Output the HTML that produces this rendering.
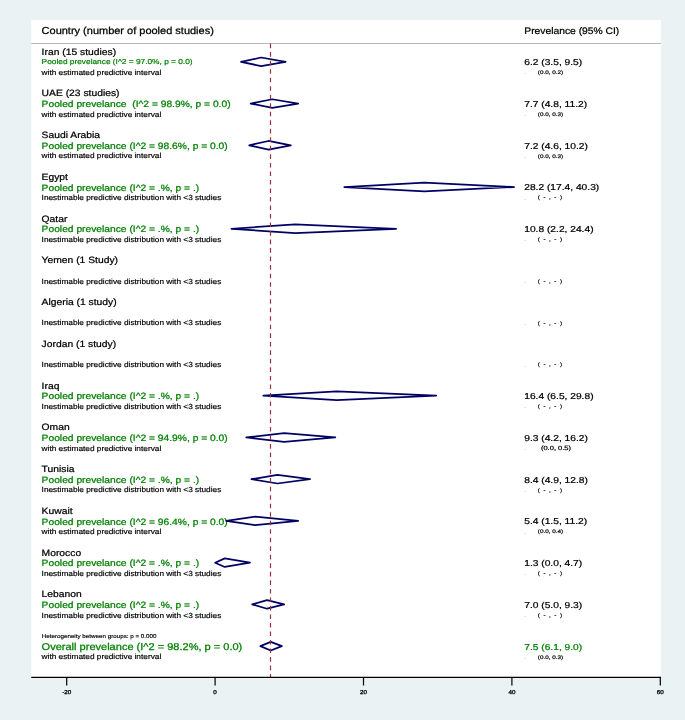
<!DOCTYPE html>
<html lang="en">
<head>
<meta charset="utf-8">
<title>Forest plot - Prevelance (95% CI) by country</title>
<style>
html,body{margin:0;padding:0;background:#eaf2f3;}
body{width:685px;height:720px;overflow:hidden;}
svg{display:block;will-change:transform;}
svg text{font-family:"Liberation Sans",Arial,Helvetica,sans-serif;text-rendering:geometricPrecision;}
</style>
</head>
<body>
<svg width="685" height="720" viewBox="0 0 685 720">
<rect x="0" y="0" width="685" height="720" fill="#eaf2f3"/>
<rect x="31.3" y="20" width="629.7" height="657.3" fill="#fff"/>
<line x1="31.3" y1="43.5" x2="661" y2="43.5" stroke="#b8b8b8" stroke-width="1"/>
<text xml:space="preserve" transform="translate(41.60,34.00) scale(1.08,1)" font-size="10.19" fill="#000" stroke="#000" stroke-width="0.255" text-anchor="start">Country (number of pooled studies)</text>
<text xml:space="preserve" transform="translate(524.30,34.00) scale(1.08,1)" font-size="9.54" fill="#000" stroke="#000" stroke-width="0.238" text-anchor="start">Prevelance (95% CI)</text>
<text xml:space="preserve" transform="translate(41.60,54.70) scale(1.12,1)" font-size="9.21" fill="#000" stroke="#000" stroke-width="0.230" text-anchor="start">Iran (15 studies)</text>
<text xml:space="preserve" transform="translate(41.60,64.40) scale(1.15,1)" font-size="7.24" fill="#008000" stroke="#008000" stroke-width="0.188" text-anchor="start">Pooled prevelance (I^2 = 97.0%, p = 0.0)</text>
<text xml:space="preserve" transform="translate(41.60,75.00) scale(1.12,1)" font-size="7.40" fill="#000" stroke="#000" stroke-width="0.185" text-anchor="start">with estimated predictive interval</text>
<path d="M241.07 61.80 L261.10 57.50 L285.59 61.80 L261.10 66.10 Z" fill="none" stroke="#000064" stroke-width="1.75" stroke-linejoin="round"/>
<text xml:space="preserve" transform="translate(524.20,65.20) scale(1.19,1)" font-size="8.61" fill="#000" stroke="#000" stroke-width="0.215" text-anchor="start">6.2 (3.5, 9.5)</text>
<text xml:space="preserve" transform="translate(524.20,74.40) scale(1.6,1)" font-size="3.98" fill="#707070" stroke="#707070" stroke-width="0.000" text-anchor="start">.</text>
<text xml:space="preserve" transform="translate(537.80,74.20) scale(1.24,1)" font-size="5.14" fill="#000" stroke="#000" stroke-width="0.180" text-anchor="start">(0.0, 0.2)</text>
<text xml:space="preserve" transform="translate(41.60,96.44) scale(1.12,1)" font-size="9.21" fill="#000" stroke="#000" stroke-width="0.230" text-anchor="start">UAE (23 studies)</text>
<text xml:space="preserve" transform="translate(41.60,107.14) scale(1.12,1)" font-size="9.17" fill="#008000" stroke="#008000" stroke-width="0.238" text-anchor="start">Pooled prevelance  (I^2 = 98.9%, p = 0.0)</text>
<text xml:space="preserve" transform="translate(41.60,116.74) scale(1.12,1)" font-size="7.40" fill="#000" stroke="#000" stroke-width="0.185" text-anchor="start">with estimated predictive interval</text>
<path d="M250.72 103.54 L272.23 99.24 L298.20 103.54 L272.23 107.84 Z" fill="none" stroke="#000064" stroke-width="1.75" stroke-linejoin="round"/>
<text xml:space="preserve" transform="translate(524.20,106.94) scale(1.19,1)" font-size="8.61" fill="#000" stroke="#000" stroke-width="0.215" text-anchor="start">7.7 (4.8, 11.2)</text>
<text xml:space="preserve" transform="translate(524.20,116.14) scale(1.6,1)" font-size="3.98" fill="#707070" stroke="#707070" stroke-width="0.000" text-anchor="start">.</text>
<text xml:space="preserve" transform="translate(537.80,115.94) scale(1.24,1)" font-size="5.14" fill="#000" stroke="#000" stroke-width="0.180" text-anchor="start">(0.0, 0.3)</text>
<text xml:space="preserve" transform="translate(41.60,138.18) scale(1.12,1)" font-size="9.21" fill="#000" stroke="#000" stroke-width="0.230" text-anchor="start">Saudi Arabia</text>
<text xml:space="preserve" transform="translate(41.60,148.88) scale(1.12,1)" font-size="9.17" fill="#008000" stroke="#008000" stroke-width="0.238" text-anchor="start">Pooled prevelance (I^2 = 98.6%, p = 0.0)</text>
<text xml:space="preserve" transform="translate(41.60,158.48) scale(1.12,1)" font-size="7.40" fill="#000" stroke="#000" stroke-width="0.185" text-anchor="start">with estimated predictive interval</text>
<path d="M249.23 145.28 L268.52 140.98 L290.78 145.28 L268.52 149.58 Z" fill="none" stroke="#000064" stroke-width="1.75" stroke-linejoin="round"/>
<text xml:space="preserve" transform="translate(524.20,148.68) scale(1.19,1)" font-size="8.61" fill="#000" stroke="#000" stroke-width="0.215" text-anchor="start">7.2 (4.6, 10.2)</text>
<text xml:space="preserve" transform="translate(524.20,157.88) scale(1.6,1)" font-size="3.98" fill="#707070" stroke="#707070" stroke-width="0.000" text-anchor="start">.</text>
<text xml:space="preserve" transform="translate(537.80,157.68) scale(1.24,1)" font-size="5.14" fill="#000" stroke="#000" stroke-width="0.180" text-anchor="start">(0.0, 0.3)</text>
<text xml:space="preserve" transform="translate(41.60,179.92) scale(1.12,1)" font-size="9.21" fill="#000" stroke="#000" stroke-width="0.230" text-anchor="start">Egypt</text>
<text xml:space="preserve" transform="translate(41.60,190.62) scale(1.12,1)" font-size="9.17" fill="#008000" stroke="#008000" stroke-width="0.238" text-anchor="start">Pooled prevelance (I^2 = .%, p = .)</text>
<text xml:space="preserve" transform="translate(41.60,200.22) scale(1.12,1)" font-size="7.40" fill="#000" stroke="#000" stroke-width="0.185" text-anchor="start">Inestimable predictive distribution with &lt;3 studies</text>
<path d="M344.21 187.02 L424.34 182.72 L514.13 187.02 L424.34 191.32 Z" fill="none" stroke="#000064" stroke-width="1.75" stroke-linejoin="round"/>
<text xml:space="preserve" transform="translate(524.20,190.42) scale(1.19,1)" font-size="8.61" fill="#000" stroke="#000" stroke-width="0.215" text-anchor="start">28.2 (17.4, 40.3)</text>
<text xml:space="preserve" transform="translate(524.20,199.62) scale(1.6,1)" font-size="3.98" fill="#707070" stroke="#707070" stroke-width="0.000" text-anchor="start">.</text>
<text xml:space="preserve" transform="translate(537.80,199.42) scale(1.24,1)" font-size="5.10" fill="#000" stroke="#000" stroke-width="0.179" text-anchor="start">(  -  ,  -  )</text>
<text xml:space="preserve" transform="translate(41.60,221.66) scale(1.12,1)" font-size="9.21" fill="#000" stroke="#000" stroke-width="0.230" text-anchor="start">Qatar</text>
<text xml:space="preserve" transform="translate(41.60,232.36) scale(1.12,1)" font-size="9.17" fill="#008000" stroke="#008000" stroke-width="0.238" text-anchor="start">Pooled prevelance (I^2 = .%, p = .)</text>
<text xml:space="preserve" transform="translate(41.60,241.96) scale(1.12,1)" font-size="7.40" fill="#000" stroke="#000" stroke-width="0.185" text-anchor="start">Inestimable predictive distribution with &lt;3 studies</text>
<path d="M231.42 228.76 L295.24 224.46 L396.15 228.76 L295.24 233.06 Z" fill="none" stroke="#000064" stroke-width="1.75" stroke-linejoin="round"/>
<text xml:space="preserve" transform="translate(524.20,232.16) scale(1.19,1)" font-size="8.61" fill="#000" stroke="#000" stroke-width="0.215" text-anchor="start">10.8 (2.2, 24.4)</text>
<text xml:space="preserve" transform="translate(524.20,241.36) scale(1.6,1)" font-size="3.98" fill="#707070" stroke="#707070" stroke-width="0.000" text-anchor="start">.</text>
<text xml:space="preserve" transform="translate(537.80,241.16) scale(1.24,1)" font-size="5.10" fill="#000" stroke="#000" stroke-width="0.179" text-anchor="start">(  -  ,  -  )</text>
<text xml:space="preserve" transform="translate(41.60,263.40) scale(1.12,1)" font-size="9.21" fill="#000" stroke="#000" stroke-width="0.230" text-anchor="start">Yemen (1 Study)</text>
<text xml:space="preserve" transform="translate(41.60,283.70) scale(1.12,1)" font-size="7.40" fill="#000" stroke="#000" stroke-width="0.185" text-anchor="start">Inestimable predictive distribution with &lt;3 studies</text>
<text xml:space="preserve" transform="translate(524.20,283.10) scale(1.6,1)" font-size="3.98" fill="#707070" stroke="#707070" stroke-width="0.000" text-anchor="start">.</text>
<text xml:space="preserve" transform="translate(537.80,282.90) scale(1.24,1)" font-size="5.10" fill="#000" stroke="#000" stroke-width="0.179" text-anchor="start">(  -  ,  -  )</text>
<text xml:space="preserve" transform="translate(41.60,305.14) scale(1.12,1)" font-size="9.21" fill="#000" stroke="#000" stroke-width="0.230" text-anchor="start">Algeria (1 study)</text>
<text xml:space="preserve" transform="translate(41.60,325.44) scale(1.12,1)" font-size="7.40" fill="#000" stroke="#000" stroke-width="0.185" text-anchor="start">Inestimable predictive distribution with &lt;3 studies</text>
<text xml:space="preserve" transform="translate(524.20,324.84) scale(1.6,1)" font-size="3.98" fill="#707070" stroke="#707070" stroke-width="0.000" text-anchor="start">.</text>
<text xml:space="preserve" transform="translate(537.80,324.64) scale(1.24,1)" font-size="5.10" fill="#000" stroke="#000" stroke-width="0.179" text-anchor="start">(  -  ,  -  )</text>
<text xml:space="preserve" transform="translate(41.60,346.88) scale(1.12,1)" font-size="9.21" fill="#000" stroke="#000" stroke-width="0.230" text-anchor="start">Jordan (1 study)</text>
<text xml:space="preserve" transform="translate(41.60,367.18) scale(1.12,1)" font-size="7.40" fill="#000" stroke="#000" stroke-width="0.185" text-anchor="start">Inestimable predictive distribution with &lt;3 studies</text>
<text xml:space="preserve" transform="translate(524.20,366.58) scale(1.6,1)" font-size="3.98" fill="#707070" stroke="#707070" stroke-width="0.000" text-anchor="start">.</text>
<text xml:space="preserve" transform="translate(537.80,366.38) scale(1.24,1)" font-size="5.10" fill="#000" stroke="#000" stroke-width="0.179" text-anchor="start">(  -  ,  -  )</text>
<text xml:space="preserve" transform="translate(41.60,388.62) scale(1.12,1)" font-size="9.21" fill="#000" stroke="#000" stroke-width="0.230" text-anchor="start">Iraq</text>
<text xml:space="preserve" transform="translate(41.60,399.32) scale(1.12,1)" font-size="9.17" fill="#008000" stroke="#008000" stroke-width="0.238" text-anchor="start">Pooled prevelance (I^2 = .%, p = .)</text>
<text xml:space="preserve" transform="translate(41.60,408.92) scale(1.12,1)" font-size="7.40" fill="#000" stroke="#000" stroke-width="0.185" text-anchor="start">Inestimable predictive distribution with &lt;3 studies</text>
<path d="M263.33 395.72 L336.79 391.42 L436.22 395.72 L336.79 400.02 Z" fill="none" stroke="#000064" stroke-width="1.75" stroke-linejoin="round"/>
<text xml:space="preserve" transform="translate(524.20,399.12) scale(1.19,1)" font-size="8.61" fill="#000" stroke="#000" stroke-width="0.215" text-anchor="start">16.4 (6.5, 29.8)</text>
<text xml:space="preserve" transform="translate(524.20,408.32) scale(1.6,1)" font-size="3.98" fill="#707070" stroke="#707070" stroke-width="0.000" text-anchor="start">.</text>
<text xml:space="preserve" transform="translate(537.80,408.12) scale(1.24,1)" font-size="5.10" fill="#000" stroke="#000" stroke-width="0.179" text-anchor="start">(  -  ,  -  )</text>
<text xml:space="preserve" transform="translate(41.60,430.36) scale(1.12,1)" font-size="9.21" fill="#000" stroke="#000" stroke-width="0.230" text-anchor="start">Oman</text>
<text xml:space="preserve" transform="translate(41.60,441.06) scale(1.12,1)" font-size="9.17" fill="#008000" stroke="#008000" stroke-width="0.238" text-anchor="start">Pooled prevelance (I^2 = 94.9%, p = 0.0)</text>
<text xml:space="preserve" transform="translate(41.60,450.66) scale(1.12,1)" font-size="7.40" fill="#000" stroke="#000" stroke-width="0.185" text-anchor="start">with estimated predictive interval</text>
<path d="M246.26 437.46 L284.11 433.16 L335.30 437.46 L284.11 441.76 Z" fill="none" stroke="#000064" stroke-width="1.75" stroke-linejoin="round"/>
<text xml:space="preserve" transform="translate(524.20,440.86) scale(1.19,1)" font-size="8.61" fill="#000" stroke="#000" stroke-width="0.215" text-anchor="start">9.3 (4.2, 16.2)</text>
<text xml:space="preserve" transform="translate(524.20,450.06) scale(1.6,1)" font-size="3.98" fill="#707070" stroke="#707070" stroke-width="0.000" text-anchor="start">.</text>
<text xml:space="preserve" transform="translate(540.90,449.86) scale(1.24,1)" font-size="6.09" fill="#000" stroke="#000" stroke-width="0.213" text-anchor="start">(0.0, 0.5)</text>
<text xml:space="preserve" transform="translate(41.60,472.10) scale(1.12,1)" font-size="9.21" fill="#000" stroke="#000" stroke-width="0.230" text-anchor="start">Tunisia</text>
<text xml:space="preserve" transform="translate(41.60,482.80) scale(1.12,1)" font-size="9.17" fill="#008000" stroke="#008000" stroke-width="0.238" text-anchor="start">Pooled prevelance (I^2 = .%, p = .)</text>
<text xml:space="preserve" transform="translate(41.60,492.40) scale(1.12,1)" font-size="7.40" fill="#000" stroke="#000" stroke-width="0.185" text-anchor="start">Inestimable predictive distribution with &lt;3 studies</text>
<path d="M251.46 479.20 L277.43 474.90 L310.08 479.20 L277.43 483.50 Z" fill="none" stroke="#000064" stroke-width="1.75" stroke-linejoin="round"/>
<text xml:space="preserve" transform="translate(524.20,482.60) scale(1.19,1)" font-size="8.61" fill="#000" stroke="#000" stroke-width="0.215" text-anchor="start">8.4 (4.9, 12.8)</text>
<text xml:space="preserve" transform="translate(524.20,491.80) scale(1.6,1)" font-size="3.98" fill="#707070" stroke="#707070" stroke-width="0.000" text-anchor="start">.</text>
<text xml:space="preserve" transform="translate(537.80,491.60) scale(1.24,1)" font-size="5.10" fill="#000" stroke="#000" stroke-width="0.179" text-anchor="start">(  -  ,  -  )</text>
<text xml:space="preserve" transform="translate(41.60,513.84) scale(1.12,1)" font-size="9.21" fill="#000" stroke="#000" stroke-width="0.230" text-anchor="start">Kuwait</text>
<text xml:space="preserve" transform="translate(41.60,524.54) scale(1.12,1)" font-size="9.17" fill="#008000" stroke="#008000" stroke-width="0.238" text-anchor="start">Pooled prevelance (I^2 = 96.4%, p = 0.0)</text>
<text xml:space="preserve" transform="translate(41.60,534.14) scale(1.12,1)" font-size="7.40" fill="#000" stroke="#000" stroke-width="0.185" text-anchor="start">with estimated predictive interval</text>
<path d="M226.23 520.94 L255.17 516.64 L298.20 520.94 L255.17 525.24 Z" fill="none" stroke="#000064" stroke-width="1.75" stroke-linejoin="round"/>
<text xml:space="preserve" transform="translate(524.20,524.34) scale(1.19,1)" font-size="8.61" fill="#000" stroke="#000" stroke-width="0.215" text-anchor="start">5.4 (1.5, 11.2)</text>
<text xml:space="preserve" transform="translate(524.20,533.54) scale(1.6,1)" font-size="3.98" fill="#707070" stroke="#707070" stroke-width="0.000" text-anchor="start">.</text>
<text xml:space="preserve" transform="translate(537.80,533.34) scale(1.24,1)" font-size="5.14" fill="#000" stroke="#000" stroke-width="0.180" text-anchor="start">(0.0, 0.4)</text>
<text xml:space="preserve" transform="translate(41.60,555.58) scale(1.12,1)" font-size="9.21" fill="#000" stroke="#000" stroke-width="0.230" text-anchor="start">Morocco</text>
<text xml:space="preserve" transform="translate(41.60,566.28) scale(1.12,1)" font-size="9.17" fill="#008000" stroke="#008000" stroke-width="0.238" text-anchor="start">Pooled prevelance (I^2 = .%, p = .)</text>
<text xml:space="preserve" transform="translate(41.60,575.88) scale(1.12,1)" font-size="7.40" fill="#000" stroke="#000" stroke-width="0.185" text-anchor="start">Inestimable predictive distribution with &lt;3 studies</text>
<path d="M215.10 562.68 L224.75 558.38 L249.97 562.68 L224.75 566.98 Z" fill="none" stroke="#000064" stroke-width="1.75" stroke-linejoin="round"/>
<text xml:space="preserve" transform="translate(524.20,566.08) scale(1.19,1)" font-size="8.61" fill="#000" stroke="#000" stroke-width="0.215" text-anchor="start">1.3 (0.0, 4.7)</text>
<text xml:space="preserve" transform="translate(524.20,575.28) scale(1.6,1)" font-size="3.98" fill="#707070" stroke="#707070" stroke-width="0.000" text-anchor="start">.</text>
<text xml:space="preserve" transform="translate(537.80,575.08) scale(1.24,1)" font-size="5.10" fill="#000" stroke="#000" stroke-width="0.179" text-anchor="start">(  -  ,  -  )</text>
<text xml:space="preserve" transform="translate(41.60,597.32) scale(1.12,1)" font-size="9.21" fill="#000" stroke="#000" stroke-width="0.230" text-anchor="start">Lebanon</text>
<text xml:space="preserve" transform="translate(41.60,608.02) scale(1.12,1)" font-size="9.17" fill="#008000" stroke="#008000" stroke-width="0.238" text-anchor="start">Pooled prevelance (I^2 = .%, p = .)</text>
<text xml:space="preserve" transform="translate(41.60,617.62) scale(1.12,1)" font-size="7.40" fill="#000" stroke="#000" stroke-width="0.185" text-anchor="start">Inestimable predictive distribution with &lt;3 studies</text>
<path d="M252.20 604.42 L267.04 600.12 L284.11 604.42 L267.04 608.72 Z" fill="none" stroke="#000064" stroke-width="1.75" stroke-linejoin="round"/>
<text xml:space="preserve" transform="translate(524.20,607.82) scale(1.19,1)" font-size="8.61" fill="#000" stroke="#000" stroke-width="0.215" text-anchor="start">7.0 (5.0, 9.3)</text>
<text xml:space="preserve" transform="translate(524.20,617.02) scale(1.6,1)" font-size="3.98" fill="#707070" stroke="#707070" stroke-width="0.000" text-anchor="start">.</text>
<text xml:space="preserve" transform="translate(537.80,616.82) scale(1.24,1)" font-size="5.10" fill="#000" stroke="#000" stroke-width="0.179" text-anchor="start">(  -  ,  -  )</text>
<text xml:space="preserve" transform="translate(41.70,638.00) scale(1.12,1)" font-size="5.59" fill="#000" stroke="#000" stroke-width="0.140" text-anchor="start">Heterogeneity between groups: p = 0.000</text>
<text xml:space="preserve" transform="translate(41.60,649.70) scale(1.12,1)" font-size="9.85" fill="#008000" stroke="#008000" stroke-width="0.256" text-anchor="start">Overall prevelance (I^2 = 98.2%, p = 0.0)</text>
<text xml:space="preserve" transform="translate(41.60,659.36) scale(1.12,1)" font-size="7.40" fill="#000" stroke="#000" stroke-width="0.185" text-anchor="start">with estimated predictive interval</text>
<path d="M260.36 646.16 L270.75 641.86 L281.88 646.16 L270.75 650.46 Z" fill="none" stroke="#000064" stroke-width="1.75" stroke-linejoin="round"/>
<text xml:space="preserve" transform="translate(524.20,649.56) scale(1.19,1)" font-size="8.61" fill="#008000" stroke="#008000" stroke-width="0.224" text-anchor="start">7.5 (6.1, 9.0)</text>
<text xml:space="preserve" transform="translate(524.20,658.76) scale(1.6,1)" font-size="3.98" fill="#707070" stroke="#707070" stroke-width="0.000" text-anchor="start">.</text>
<text xml:space="preserve" transform="translate(537.80,658.56) scale(1.24,1)" font-size="5.14" fill="#000" stroke="#000" stroke-width="0.180" text-anchor="start">(0.0, 0.3)</text>
<line x1="270.5" y1="43.6" x2="270.5" y2="677" stroke="#96303c" stroke-width="1.2" stroke-dasharray="4.6 3.92"/>
<line x1="31.3" y1="677.3" x2="661.1" y2="677.3" stroke="#000" stroke-width="1.2"/>
<line x1="66.70" y1="677.3" x2="66.70" y2="685.5" stroke="#000" stroke-width="1.2"/>
<text xml:space="preserve" transform="translate(66.70,693.90) scale(1.12,1)" font-size="5.62" fill="#000" stroke="#000" stroke-width="0.281" text-anchor="middle">-20</text>
<line x1="215.10" y1="677.3" x2="215.10" y2="685.5" stroke="#000" stroke-width="1.2"/>
<text xml:space="preserve" transform="translate(215.10,693.90) scale(1.12,1)" font-size="5.62" fill="#000" stroke="#000" stroke-width="0.281" text-anchor="middle">0</text>
<line x1="363.50" y1="677.3" x2="363.50" y2="685.5" stroke="#000" stroke-width="1.2"/>
<text xml:space="preserve" transform="translate(363.50,693.90) scale(1.12,1)" font-size="5.62" fill="#000" stroke="#000" stroke-width="0.281" text-anchor="middle">20</text>
<line x1="511.90" y1="677.3" x2="511.90" y2="685.5" stroke="#000" stroke-width="1.2"/>
<text xml:space="preserve" transform="translate(511.90,693.90) scale(1.12,1)" font-size="5.62" fill="#000" stroke="#000" stroke-width="0.281" text-anchor="middle">40</text>
<line x1="660.30" y1="677.3" x2="660.30" y2="685.5" stroke="#000" stroke-width="1.2"/>
<text xml:space="preserve" transform="translate(660.30,693.90) scale(1.12,1)" font-size="5.62" fill="#000" stroke="#000" stroke-width="0.281" text-anchor="middle">60</text>
</svg>
</body>
</html>
